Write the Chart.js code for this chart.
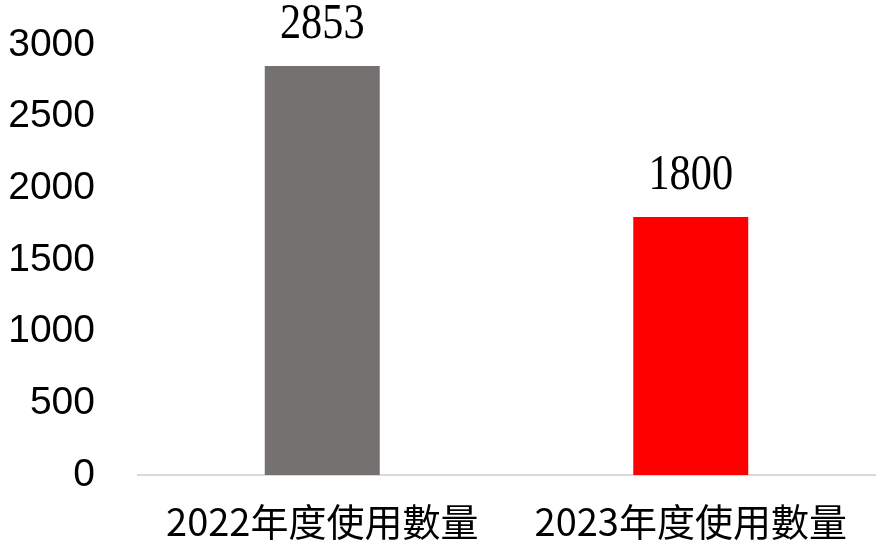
<!DOCTYPE html>
<html>
<head>
<meta charset="utf-8">
<script src="https://cdn.jsdelivr.net/npm/chart.js@4"></script>
<style>
  html, body { margin: 0; padding: 0; background: #fff; }
  #wrap { width: 883px; height: 546px; }
</style>
</head>
<body>
<div id="wrap"><canvas id="usageChart"></canvas></div>
<script>
// données
const categories = ['2022年度使用數量', '2023年度使用數量'];
const usage = [2853, 1800];
const barColors = ['#767171', '#ff0000'];
const yMin = 0;
const yMax = 3000;
const yStep = 500;

// étiquettes de valeur au-dessus des barres
const valueLabels = {
    id: 'valueLabels',
    afterDatasetsDraw(chart) {
        const ctx = chart.ctx;
        const meta = chart.getDatasetMeta(0);
        ctx.save();
        ctx.fillStyle = '#000';
        ctx.font = '51px "Liberation Serif", "DejaVu Serif", serif';
        ctx.textAlign = 'center';
        ctx.textBaseline = 'alphabetic';
        meta.data.forEach(function(bar, i) {
            ctx.save();
            ctx.translate(bar.x, bar.y - 28);
            ctx.scale(0.83, 1);
            ctx.fillText(String(usage[i]), 0, 0);
            ctx.restore();
        });
        ctx.restore();
    }
};

document.addEventListener('DOMContentLoaded', function() {
    const ctx = document.getElementById('usageChart').getContext('2d');
    new Chart(ctx, {
        type: 'bar',
        data: {
            labels: categories,
            datasets: [{
                data: usage,
                backgroundColor: barColors,
                barPercentage: 0.312,
                categoryPercentage: 1
            }]
        },
        plugins: [valueLabels],
        options: {
            responsive: true,
            maintainAspectRatio: false,
            animation: false,
            devicePixelRatio: 1,
            layout: { padding: { top: 45, right: 8, left: 0, bottom: 0 } },
            plugins: {
                legend: { display: false },
                tooltip: { enabled: false }
            },
            scales: {
                x: {
                    grid: { display: false, drawTicks: false },
                    border: { display: true, color: '#d9d9d9', width: 2 },
                    ticks: {
                        color: '#000',
                        padding: 24,
                        font: { family: '"Noto Sans CJK TC", "Noto Sans", sans-serif', size: 38 }
                    },
                    afterFit: function(scale) {
                        scale.height = 71;
                        scale.paddingLeft = 0;
                        scale.paddingRight = 0;
                    }
                },
                y: {
                    min: yMin,
                    max: yMax,
                    grid: { display: false, drawTicks: false },
                    border: { display: false },
                    ticks: {
                        stepSize: yStep,
                        color: '#000',
                        padding: 43,
                        font: { family: '"Liberation Sans", Arial, sans-serif', size: 39 },
                        callback: function(value) { return String(value); }
                    },
                    afterFit: function(scale) {
                        scale.width = 138;
                        scale.paddingTop = 0;
                        scale.paddingBottom = 0;
                    }
                }
            }
        }
    });
});
</script>
</body>
</html>
